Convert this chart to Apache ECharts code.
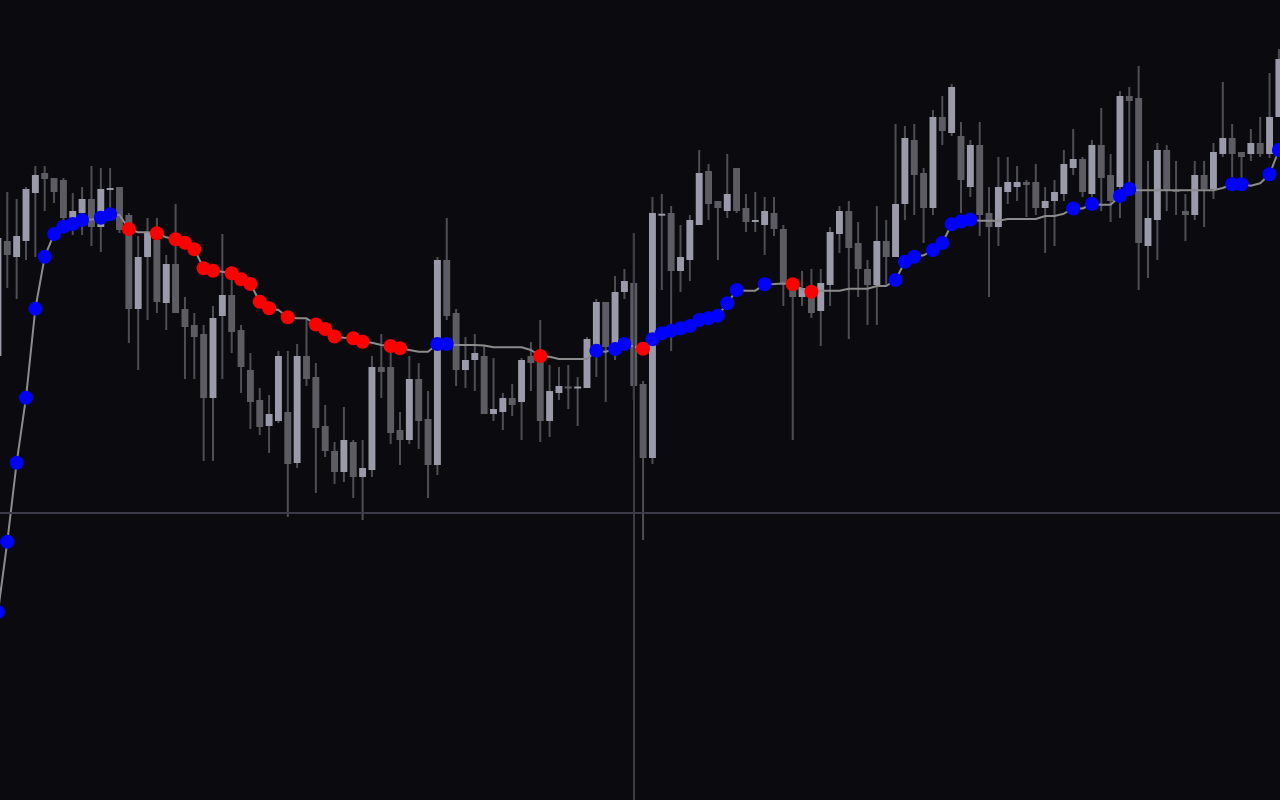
<!DOCTYPE html>
<html>
<head>
<meta charset="utf-8">
<script src="https://cdn.jsdelivr.net/npm/echarts@6/dist/echarts.min.js"></script>
<style>
html,body{margin:0;padding:0;background:#0a0a0f;overflow:hidden;width:1280px;height:800px;position:relative;}
#chart{position:absolute;left:-7px;top:0;width:1291px;height:800px;}
</style>
</head>
<body>
<div id="chart"></div>
<script>
// ---- candle data (price units) ----
const opens = [144.4,155.9,154.3,155.9,160.7,162.7,162.2,162.0,158.2,158.7,160.1,157.3,161.1,161.3,158.5,149.1,154.3,156.0,149.7,153.6,
149.1,147.5,146.6,140.2,148.4,150.5,147.0,143.0,140.0,137.4,137.9,138.8,133.7,144.4,142.3,137.4,134.9,132.8,135.8,132.3,
133.0,143.3,143.3,137.0,136.0,142.1,138.1,133.5,154.0,148.7,143.0,144.0,144.4,138.6,138.8,140.2,139.8,144.4,144.0,137.9,
140.7,141.35,141.25,141.2,145.4,149.8,145.3,150.8,151.7,141.6,134.2,158.57,158.7,152.9,154.0,157.5,162.9,159.9,158.9,163.2,
159.2,157.8,157.5,158.7,157.1,151.0,150.3,151.0,148.9,151.5,156.6,158.9,155.7,153.1,151.5,155.9,154.3,159.6,166.0,162.7,
159.2,168.3,166.7,166.4,161.3,165.5,158.7,157.3,160.8,161.3,161.8,161.8,159.2,159.9,160.6,163.2,164.1,160.6,165.5,162.5,
161.3,170.4,170.2,155.4,158.0,165.0,161.0,158.9,158.5,162.5,161.1,164.6,166.2,164.8,164.6,165.7,164.6,168.3];
const closes = [156.2,154.5,156.4,161.1,162.5,162.1,160.8,158.2,158.9,160.1,157.3,161.1,161.2,157.0,149.1,154.3,156.7,149.8,153.6,148.7,
147.3,146.3,140.2,148.2,150.5,146.8,143.3,139.8,137.3,138.6,144.4,133.6,144.4,142.1,137.2,134.9,132.8,136.0,132.3,133.2,
143.3,142.8,136.7,136.0,142.1,137.9,133.5,154.0,148.4,143.0,144.0,144.7,138.6,139.1,140.2,139.5,144.0,143.7,137.9,140.9,
141.4,141.25,141.35,146.1,149.8,145.3,150.8,151.9,141.4,134.2,158.7,158.63,152.9,154.3,158.0,162.7,159.6,159.2,160.6,158.9,
157.8,158.0,158.9,157.1,151.7,150.3,151.2,148.7,151.7,156.8,158.9,155.2,153.1,151.5,155.9,154.3,159.6,166.2,162.5,159.2,
168.3,166.9,171.3,162.0,165.5,158.5,157.3,161.3,161.8,161.8,161.5,159.2,159.9,160.8,163.6,164.1,160.8,165.5,162.2,159.9,
170.4,169.9,155.7,158.2,165.0,160.9,160.95,158.5,162.5,161.1,164.8,166.2,164.6,164.3,165.7,164.6,168.3,174.1];
const lows = [144.4,151.2,150.1,154.0,154.3,158.9,159.7,158.0,156.5,156.5,155.4,154.8,158.3,156.7,145.7,143.0,148.0,148.7,147.0,148.7,
142.1,142.1,133.9,133.9,142.1,144.7,140.7,137.1,136.5,134.7,137.7,128.3,133.2,141.4,130.7,134.3,131.6,131.8,130.2,128.0,
132.3,140.2,135.6,133.5,135.6,135.1,130.2,132.5,148.0,141.4,141.2,140.9,138.6,137.9,137.0,138.4,136.0,140.9,135.8,136.3,
140.0,139.1,137.4,141.2,142.3,139.8,144.0,150.1,140.0,126.0,133.6,151.0,144.9,150.8,151.9,157.5,158.0,154.0,158.2,158.7,
156.8,156.8,154.5,156.4,149.4,136.0,149.4,148.2,145.4,149.4,154.7,146.1,150.3,147.5,147.5,151.5,154.3,158.0,158.5,155.7,
158.5,165.5,166.4,158.7,160.3,156.4,150.3,155.4,159.6,159.9,158.3,158.5,154.7,155.4,159.9,162.5,160.3,160.3,158.9,157.8,
158.2,161.3,151.0,152.2,154.0,158.9,158.5,155.9,158.0,157.3,160.1,164.3,162.3,161.3,163.9,164.3,164.2,168.3];
const highs = [156.2,160.8,160.1,161.3,163.4,163.4,162.2,162.2,160.7,161.3,163.4,163.2,163.2,161.3,158.7,156.4,158.2,158.2,154.5,159.6,
150.3,148.7,147.5,149.4,156.6,152.0,147.5,144.7,141.2,140.5,144.9,144.9,145.6,148.1,143.7,139.5,135.8,139.3,136.0,136.0,
144.4,146.6,144.7,138.8,144.4,143.7,140.9,154.3,158.2,149.1,146.3,146.6,145.5,144.2,140.7,141.6,144.2,145.8,148.0,143.5,
143.3,143.5,142.3,146.3,150.1,149.8,152.4,153.1,156.7,141.9,160.3,160.6,159.4,157.5,158.5,165.0,163.6,159.9,164.6,163.2,
160.6,160.8,160.3,160.3,157.5,151.4,152.9,153.1,153.1,157.3,159.4,159.9,157.8,154.0,159.4,158.0,167.6,167.4,167.6,163.2,
169.0,170.4,171.6,167.8,166.0,167.8,161.3,164.3,164.3,163.4,162.0,163.6,161.3,162.0,165.0,167.1,164.3,166.0,169.2,164.6,
170.9,171.3,173.4,163.9,165.7,165.5,163.9,160.6,163.9,163.9,165.7,171.8,167.6,164.8,167.1,168.3,172.7,175.1];

// ---- trailing line and its signal dots (1 = blue, -1 = red, 0 = none) ----
const lineVals = [118.8,125.83,133.73,140.23,149.13,154.33,156.6,157.33,157.6,158.0,158.05,158.23,158.57,158.5,157.1,156.77,156.77,156.67,156.27,156.07,
155.73,155.07,153.17,152.93,152.83,152.67,152.07,151.6,149.83,149.17,149.0,148.27,148.17,148.17,147.55,147.1,146.35,146.23,146.17,145.83,
145.73,145.5,145.4,145.17,145.0,144.83,144.83,145.6,145.6,145.5,145.5,145.5,145.45,145.27,145.27,145.27,145.27,145.0,144.4,144.33,
144.1,144.1,144.1,144.1,144.93,144.83,145.1,145.6,145.35,145.13,146.07,146.67,146.93,147.17,147.4,148.0,148.17,148.43,149.67,151.0,
150.93,150.93,151.57,151.6,151.65,151.57,151.1,150.83,150.93,150.93,150.93,151.13,151.13,151.13,151.4,151.4,152.0,153.83,154.33,154.47,
155.0,155.7,157.57,157.85,158.05,157.93,157.93,157.93,158.1,158.1,158.1,158.1,158.4,158.4,158.63,159.15,159.15,159.6,159.53,159.53,
160.4,161.1,160.97,160.97,160.97,160.97,160.97,160.97,160.97,160.97,160.97,161.2,161.57,161.57,161.43,161.67,162.57,165.0];
const signals = [1,1,1,1,1,1,1,1,1,1,0,1,1,0,-1,0,0,-1,0,-1,
-1,-1,-1,-1,0,-1,-1,-1,-1,-1,0,-1,0,0,-1,-1,-1,0,-1,-1,
0,0,-1,-1,0,0,0,1,1,0,0,0,0,0,0,0,0,0,-1,0,
0,0,0,0,1,0,1,1,0,-1,1,1,1,1,1,1,1,1,1,1,
0,0,1,0,0,-1,0,-1,0,0,0,0,0,0,0,0,1,1,1,0,
1,1,1,1,1,0,0,0,0,0,0,0,0,0,0,1,0,1,0,0,
1,1,0,0,0,0,0,0,0,0,0,0,1,1,0,0,1,1];

// ---- crosshair ----
const crossIndex = 68;
const crossLevel = 128.7;

const categories = opens.map((_, i) => String(i + 1));
const candleData = opens.map((o, i) => [i, o, closes[i], lows[i], highs[i]]);
const blueDots = lineVals.map((v, i) => signals[i] === 1 ? v : '-');
const redDots = lineVals.map((v, i) => signals[i] === -1 ? v : '-');

const UP = '#9a9aaa', DOWN = '#5c5c62', WICK = '#4e4e56';

const chart = echarts.init(document.getElementById('chart'), null, {renderer: 'canvas'});
const band = 9.35;
chart.setOption({
  backgroundColor: '#0a0a0f',
  animation: false,
  grid: {left: 0.275, width: band * categories.length, top: 0, bottom: 0, containLabel: false},
  xAxis: {type: 'category', data: categories, show: false, boundaryGap: true},
  yAxis: {type: 'value', min: 100, max: 180, show: false, splitLine: {show: false}},
  series: [
    {
      type: 'line', data: lineVals.map(() => '-'), silent: true, z: 1, symbol: 'none',
      markLine: {
        silent: true, symbol: 'none', label: {show: false},
        lineStyle: {color: '#3c3c48', width: 2, type: 'solid'},
        data: [
          {yAxis: crossLevel},
          [{coord: [categories[crossIndex], highs[crossIndex]]}, {coord: [categories[crossIndex], 100]}]
        ]
      }
    },
    {
      type: 'custom', z: 2, clip: true,
      data: candleData,
      encode: {x: 0, y: [1, 2, 3, 4]},
      renderItem: function (params, api) {
        const idx = api.value(0);
        const o = api.value(1), c = api.value(2), l = api.value(3), h = api.value(4);
        const po = api.coord([idx, o]), pc = api.coord([idx, c]);
        const pl = api.coord([idx, l]), ph = api.coord([idx, h]);
        const bw = api.size([1, 0])[0] * 0.74;
        const up = c >= o;
        const top = Math.min(po[1], pc[1]);
        const hgt = Math.max(2, Math.abs(po[1] - pc[1]));
        return {
          type: 'group',
          children: [
            {type: 'line', shape: {x1: ph[0], y1: ph[1], x2: pl[0], y2: pl[1]}, style: {stroke: WICK, lineWidth: 2}},
            {type: 'rect', shape: {x: po[0] - bw / 2, y: top, width: bw, height: hgt}, style: {fill: up ? UP : DOWN}}
          ]
        };
      }
    },
    {
      type: 'line', data: lineVals, z: 3, symbol: 'none', showSymbol: false, silent: true, smooth: false,
      lineStyle: {color: '#8c8c8c', width: 2}
    },
    {
      type: 'scatter', data: blueDots, z: 4, symbolSize: 14, silent: true,
      itemStyle: {color: '#0000ff', opacity: 1}
    },
    {
      type: 'scatter', data: redDots, z: 4, symbolSize: 14, silent: true,
      itemStyle: {color: '#ff0000', opacity: 1}
    }
  ]
});
</script>
</body>
</html>
